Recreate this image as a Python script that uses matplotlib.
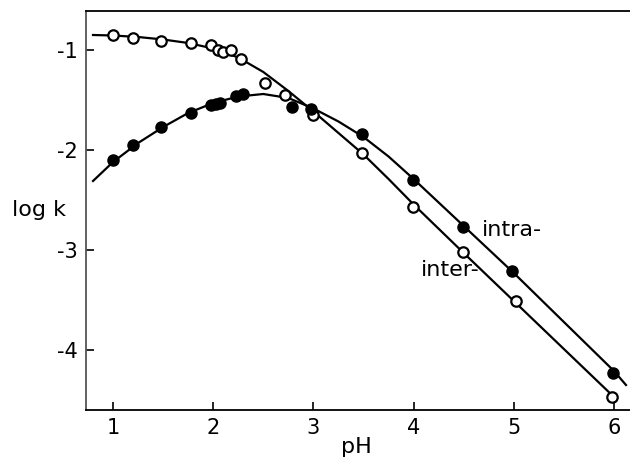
import matplotlib
matplotlib.use("Agg")
import matplotlib.pyplot as plt

plt.rcParams['font.family'] = ['DejaVu Sans']
plt.rcParams['axes.unicode_minus'] = False

# measured points, open circles (inter-)
inter_ph = [1.0, 1.2, 1.48, 1.78, 1.98, 2.05, 2.1, 2.18, 2.28, 2.52, 2.72, 3.0, 3.48, 3.99, 4.49, 5.02, 5.98]
inter_logk = [-0.85, -0.88, -0.91, -0.93, -0.95, -1.0, -1.02, -1.0, -1.09, -1.33, -1.45, -1.65, -2.03, -2.57, -3.02, -3.51, -4.47]

# measured points, filled circles (intra-)
intra_ph = [1.0, 1.2, 1.48, 1.78, 1.98, 2.03, 2.07, 2.23, 2.3, 2.79, 2.98, 3.48, 3.99, 4.49, 4.98, 5.99]
intra_logk = [-2.1, -1.95, -1.77, -1.63, -1.55, -1.54, -1.53, -1.46, -1.44, -1.57, -1.59, -1.84, -2.3, -2.77, -3.21, -4.23]

# fitted curves
inter_curve_ph = [0.8, 1.0, 1.25, 1.5, 1.75, 2.0, 2.25, 2.5, 2.75, 3.0, 3.25, 3.5, 3.75, 4.0, 4.5, 5.0, 5.5, 6.0]
inter_curve_logk = [-0.85, -0.855, -0.87, -0.895, -0.93, -0.985, -1.075, -1.22, -1.41, -1.615, -1.83, -2.045, -2.29, -2.545, -3.03, -3.51, -3.99, -4.47]

intra_curve_ph = [0.8, 1.0, 1.25, 1.5, 1.75, 2.0, 2.25, 2.5, 2.75, 3.0, 3.25, 3.5, 3.75, 4.0, 4.5, 5.0, 5.5, 6.0, 6.12]
intra_curve_logk = [-2.31, -2.12, -1.93, -1.77, -1.63, -1.53, -1.465, -1.44, -1.48, -1.585, -1.715, -1.87, -2.065, -2.29, -2.76, -3.23, -3.72, -4.21, -4.35]

fig = plt.figure(figsize=(6.3, 4.58), dpi=100)
ax = fig.add_axes([86 / 630, 1 - 410 / 458, 1 - 86 / 630, 399 / 458])

ax.plot(inter_curve_ph, inter_curve_logk, color='black', lw=1.6, zorder=2)
ax.plot(intra_curve_ph, intra_curve_logk, color='black', lw=1.6, zorder=2)
ax.plot(inter_ph, inter_logk, 'o', ms=7.5, mfc='white', mec='black', mew=1.6, zorder=3)
ax.plot(intra_ph, intra_logk, 'o', ms=8, mfc='black', mec='black', mew=1.0, zorder=3)

ax.set_xlim(0.73, 6.16)
ax.set_ylim(-4.6, -0.61)
ax.set_xticks([1, 2, 3, 4, 5, 6])
ax.set_yticks([-1, -2, -3, -4])
ax.tick_params(direction='in', length=6, width=1.2, labelsize=15, pad=6)

for side in ['top', 'bottom', 'left']:
    ax.spines[side].set_linewidth(1.3)
ax.spines['right'].set_visible(False)
ax.spines['left'].set_color('#555555')

ax.text(4.68, -2.8, 'intra-', fontsize=16, va='center', ha='left')
ax.text(4.07, -3.2, 'inter-', fontsize=16, va='center', ha='left')

fig.text(12 / 630, 1 - 210 / 458, 'log k', fontsize=16, va='center', ha='left')
fig.text(356 / 630, 1 - 447 / 458, 'pH', fontsize=16, va='center', ha='center')

fig.savefig('out.png', dpi=100)
